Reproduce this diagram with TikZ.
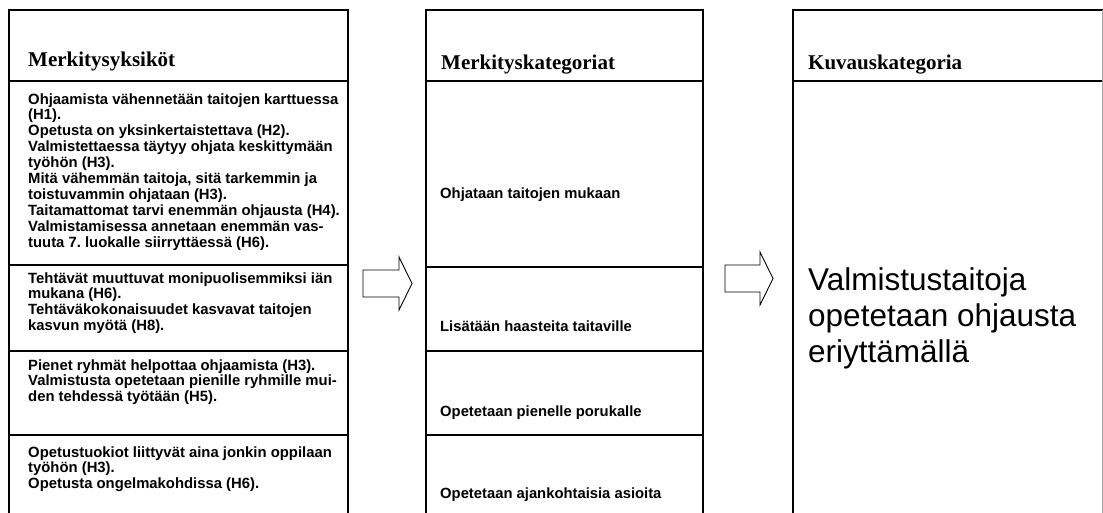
\documentclass[tikz,border=0pt]{standalone}
\usepackage{fontspec}
\setmainfont{Liberation Serif}
\newfontfamily\arialfont{Liberation Sans}
\frenchspacing
\begin{document}
\begin{tikzpicture}[x=1pt,y=-1pt, line join=miter,
  frame/.style={line width=1.6pt},
  blockarrow/.style={line width=0.9pt, fill=white},
  headtext/.style={font=\fontsize{21}{23}\selectfont\bfseries, inner sep=0pt, anchor=base west},
  bodytext/.style={font=\arialfont\bfseries\fontsize{14.85}{16}\selectfont, inner sep=0pt, anchor=base west},
  midtext/.style={font=\arialfont\bfseries\fontsize{14.8}{16}\selectfont, inner sep=0pt, anchor=base west},
  bigtext/.style={font=\arialfont\fontsize{31.5}{36}\selectfont, inner sep=0pt, anchor=base west}]
\useasboundingbox (0,0) rectangle (1103,512);
\clip (0,0) rectangle (1103,512);
\fill[white] (0,0) rectangle (1103,512);
% ---- column frames
\draw[frame] (9,520) -- (9,10) -- (348,10) -- (348,520);
\foreach \yy in {81,265,351,435} \draw[frame] (9,\yy) -- (348,\yy);
\draw[frame] (426,520) -- (426,10) -- (703,10) -- (703,520);
\foreach \yy in {81,267,351,435} \draw[frame] (426,\yy) -- (703,\yy);
\draw[frame] (793,520) -- (793,10) -- (1103,10);
\draw[frame] (793,81) -- (1103,81);
\draw[black!35, line width=1pt] (1102,10) -- (1102,520);
% ---- headers
\node[headtext] (h1) at (28,66) {Merkitysyksiköt};
\node[headtext] (h2) at (441,69) {Merkityskategoriat};
\node[headtext] (h3) at (808,69) {Kuvauskategoria};
% ---- left column texts
\newcommand\rowlines[4]{%
  \foreach \txt [count=\i from 0] in {#4} {
    \node[bodytext] (#1-\i) at (#2, #3+\i*15.9) {\txt};
  }%
}
\rowlines{a}{28}{104}{Ohjaamista vähennetään taitojen karttuessa, (H1)., Opetusta on yksinkertaistettava (H2)., Valmistettaessa täytyy ohjata keskittymään, työhön (H3)., {Mitä vähemmän taitoja, sitä tarkemmin ja}, toistuvammin ohjataan (H3)., Taitamattomat tarvi enemmän ohjausta (H4)., Valmistamisessa annetaan enemmän vas-, tuuta 7. luokalle siirryttäessä (H6).}
\rowlines{b}{28}{283}{Tehtävät muuttuvat monipuolisemmiksi iän, mukana (H6)., Tehtäväkokonaisuudet kasvavat taitojen, kasvun myötä (H8).}
\rowlines{c}{28}{370}{Pienet ryhmät helpottaa ohjaamista (H3)., Valmistusta opetetaan pienille ryhmille mui-, den tehdessä työtään (H5).}
\rowlines{d}{28}{457}{Opetustuokiot liittyvät aina jonkin oppilaan, työhön (H3)., Opetusta ongelmakohdissa (H6).}
% ---- middle column texts
\node[midtext] (m1) at (440,198) {Ohjataan taitojen mukaan};
\node[midtext] (m2) at (440,331) {Lisätään haasteita taitaville};
\node[midtext] (m3) at (440,416) {Opetetaan pienelle porukalle};
\node[midtext] (m4) at (440,498) {Opetetaan ajankohtaisia asioita};
% ---- right column text
\node[bigtext] (r1) at (808,290) {Valmistustaitoja};
\node[bigtext] (r2) at (808,326) {opetetaan ohjausta};
\node[bigtext] (r3) at (808,362) {eriyttämällä};
% ---- block arrows
\draw[blockarrow] (363,270) -- (399,270) -- (399,257) -- (412,283.5) -- (399,310) -- (399,297) -- (363,297) -- cycle;
\draw[blockarrow] (725,265) -- (760,265) -- (760,252) -- (773,278.5) -- (760,305) -- (760,292) -- (725,292) -- cycle;
\end{tikzpicture}
\end{document}
